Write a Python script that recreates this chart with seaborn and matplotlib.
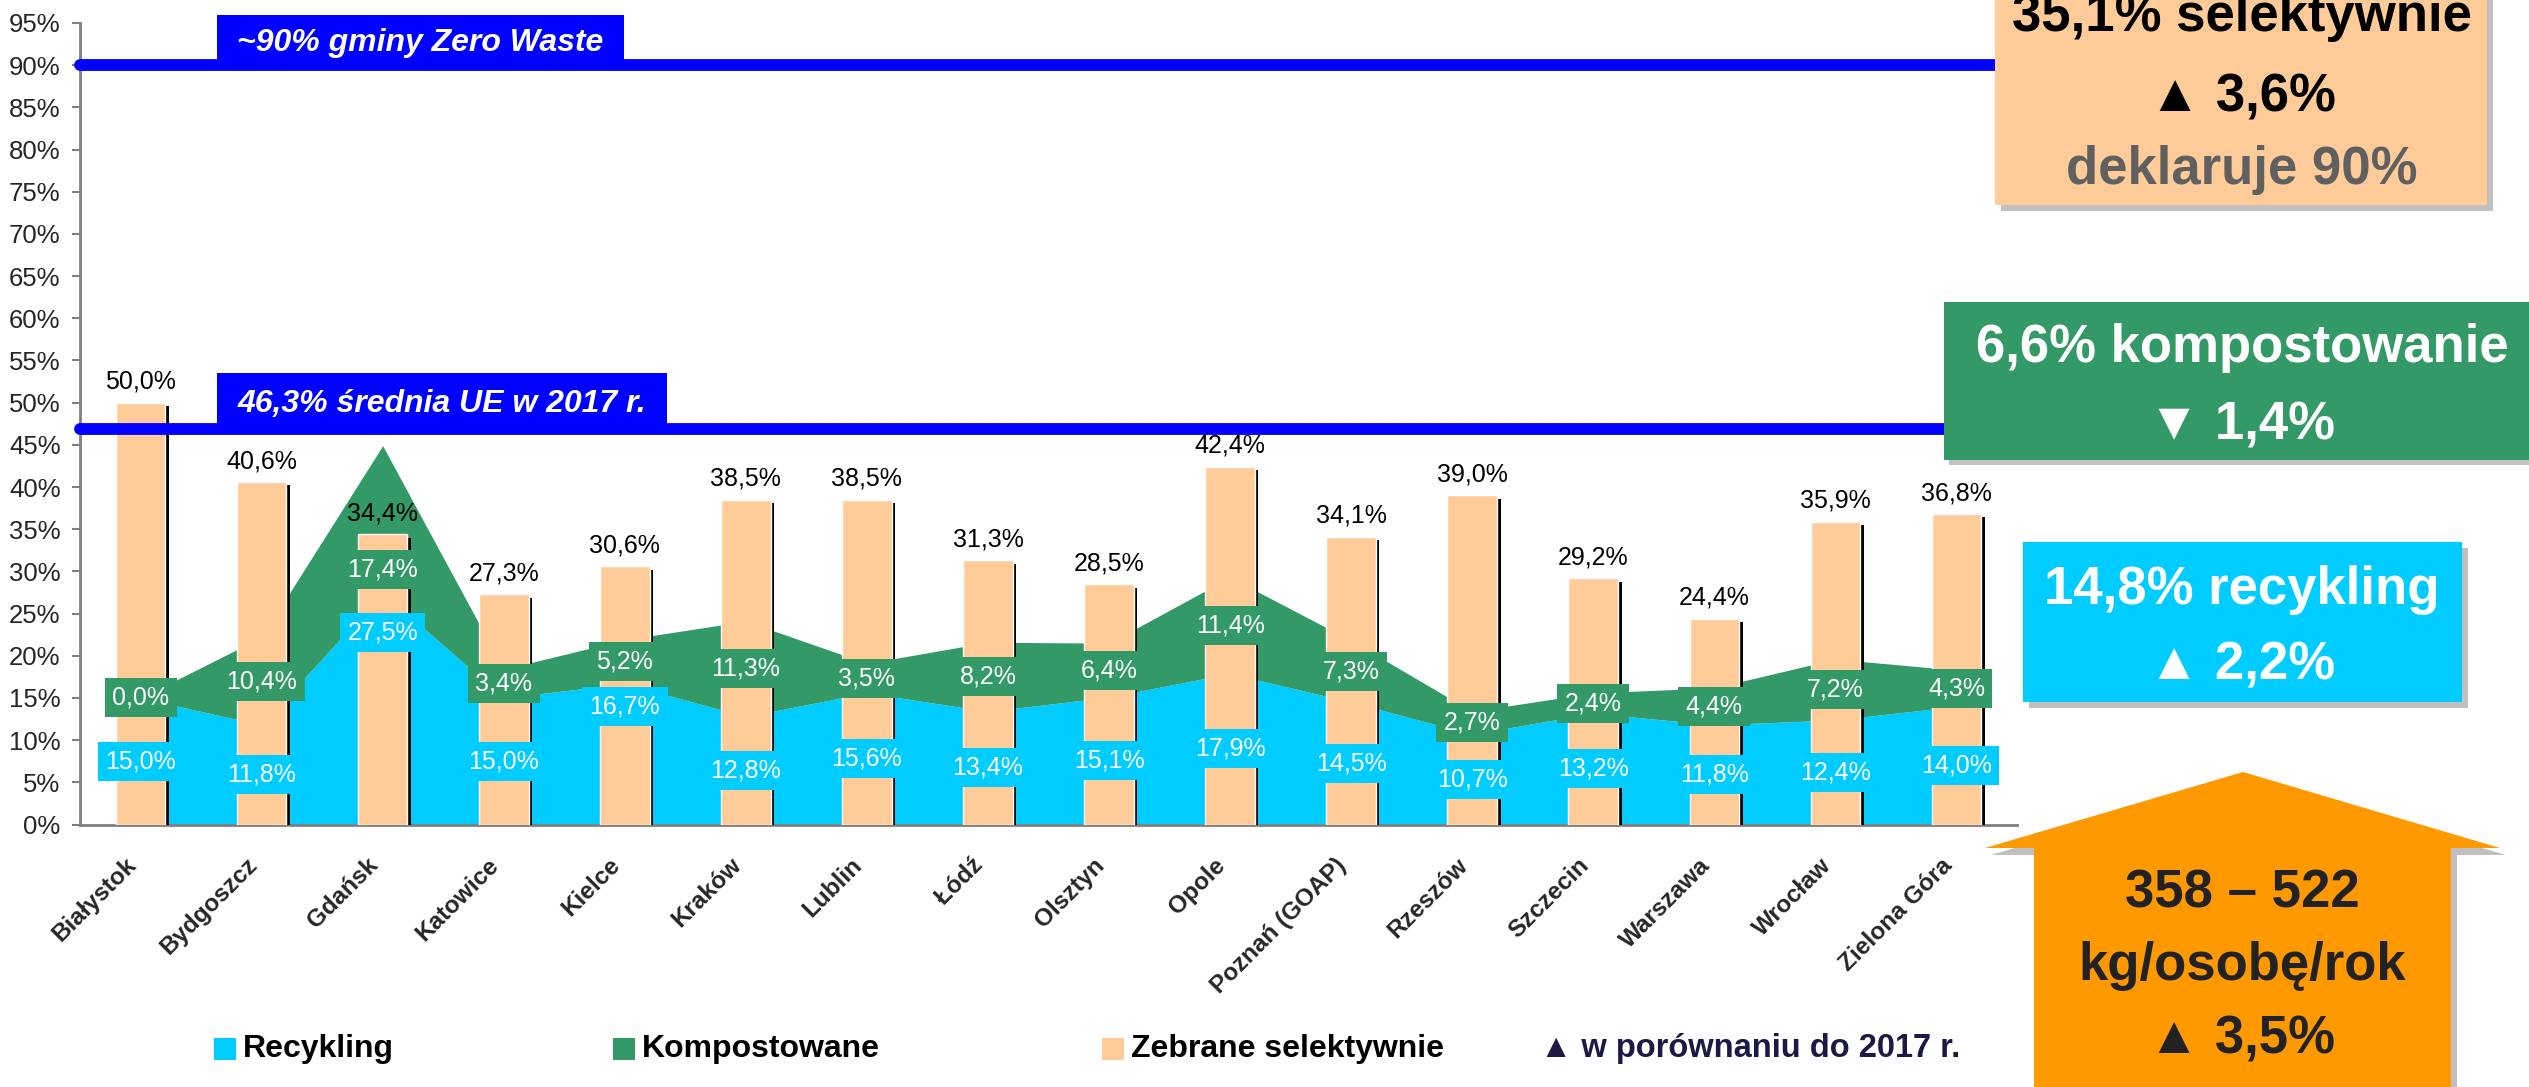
import matplotlib
matplotlib.use("Agg")
import matplotlib.pyplot as plt
import matplotlib.patheffects as pe
from matplotlib.patches import Rectangle, Polygon
import seaborn as sns
import pandas as pd

# --- data -------------------------------------------------------------
cities = ["Białystok", "Bydgoszcz", "Gdańsk", "Katowice", "Kielce", "Kraków",
          "Lublin", "Łódź", "Olsztyn", "Opole", "Poznań (GOAP)", "Rzeszów",
          "Szczecin", "Warszawa", "Wrocław", "Zielona Góra"]
recykling = [15.0, 11.8, 27.5, 15.0, 16.7, 12.8, 15.6, 13.4,
             15.1, 17.9, 14.5, 10.7, 13.2, 11.8, 12.4, 14.0]
kompostowane = [0.0, 10.4, 17.4, 3.4, 5.2, 11.3, 3.5, 8.2,
                6.4, 11.4, 7.3, 2.7, 2.4, 4.4, 7.2, 4.3]
selektywnie = [50.0, 40.6, 34.4, 27.3, 30.6, 38.5, 38.5, 31.3,
               28.5, 42.4, 34.1, 39.0, 29.2, 24.4, 35.9, 36.8]
y_ticks = list(range(0, 100, 5))

zero_waste = 90
eu_avg = 46.3
eu_line_y = 46.9   # where the line sits in the original picture

CYAN = "#00CCFF"
GREEN = "#339966"
PEACH = "#FFCC99"
BLUE = "#0000FF"
ORANGE = "#FF9900"
SHADOW = "#C0C0C0"

W, H = 2529, 1087


def pct(v):
    return f"{v:.1f}".replace(".", ",") + "%"


def fx(x):
    return x / W


def fy(y):
    return 1 - y / H


sns.set_theme(style="white")
plt.rcParams["font.family"] = ["Liberation Sans", "DejaVu Sans"]

fig = plt.figure(figsize=(W / 100, H / 100), dpi=100)
ax = fig.add_axes([fx(80), fy(824.5), (2017 - 80) / W, (824.5 - 23) / H])

# bars (collected selectively)
df = pd.DataFrame({"Miasto": cities, "Zebrane": selektywnie})
sns.barplot(data=df, x="Miasto", y="Zebrane", color=PEACH, saturation=1,
            width=0.41, ax=ax, zorder=3)
for bar in ax.patches:
    bar.set_path_effects([pe.SimplePatchShadow(offset=(2.5, -2.5), shadow_rgbFace="black", alpha=1),
                          pe.Normal()])

# stacked areas: recycling + composting
xs = list(range(len(cities)))
ax.stackplot(xs, recykling, kompostowane, colors=[CYAN, GREEN], zorder=1, linewidth=0)

# value labels
rec_y = [r / 2 for r in recykling]
comp_y = [r + c / 2 for r, c in zip(recykling, kompostowane)]
rec_y[2], rec_y[4] = 22.7, 14.0
comp_y[2] = 30.2
for i in xs:
    ax.text(i, rec_y[i], pct(recykling[i]), ha="center", va="center", fontsize=18, color="white",
            zorder=6, bbox=dict(boxstyle="square,pad=0.3", fc=CYAN, ec="none"))
    ax.text(i, comp_y[i], pct(kompostowane[i]), ha="center", va="center", fontsize=18, color="white",
            zorder=6, bbox=dict(boxstyle="square,pad=0.3", fc=GREEN, ec="none"))
    ax.annotate(pct(selektywnie[i]), (i, selektywnie[i]), xytext=(0, 10), textcoords="offset points",
                ha="center", va="baseline", fontsize=18, color="black", zorder=9)

# reference lines
ax.axhline(zero_waste, xmin=0, xmax=1, color=BLUE, lw=8.5, zorder=7, clip_on=False)
ax.axhline(eu_line_y, xmin=0, xmax=1, color=BLUE, lw=8.5, zorder=7, clip_on=False)
ax.add_patch(Rectangle((0.63, zero_waste), 3.36, 5.9, fc=BLUE, ec="none", zorder=7, clip_on=False))
ax.text(2.31, 92.6, "~90% gminy Zero Waste", ha="center", va="center", fontsize=23,
        fontweight="bold", fontstyle="italic", color="white", zorder=8, clip_on=False)
ax.add_patch(Rectangle((0.63, eu_line_y), 3.72, 6.6, fc=BLUE, ec="none", zorder=7, clip_on=False))
ax.text(2.49, 49.9, f"{pct(eu_avg)} średnia UE w 2017 r.", ha="center", va="center", fontsize=23,
        fontweight="bold", fontstyle="italic", color="white", zorder=8)

# axes styling
ax.set_xlim(-0.5, 15.5)
ax.set_ylim(0, 95)
ax.set_yticks(y_ticks)
ax.set_yticklabels([f"{t}%" for t in y_ticks], fontsize=18.5)
ax.set_xticks(xs)
ax.set_xticklabels(cities, rotation=45, ha="right", fontsize=17.5, fontweight="bold")
ax.tick_params(axis="x", length=0, pad=21)
ax.tick_params(axis="y", direction="out", length=6, width=1.5, color="#808080", pad=8, left=True)
ax.set_xlabel("")
ax.set_ylabel("")
for side in ["top", "right"]:
    ax.spines[side].set_visible(False)
for side in ["left", "bottom"]:
    ax.spines[side].set_color("#808080")
    ax.spines[side].set_linewidth(2)
ax.patch.set_alpha(0)


# --- summary boxes on the right ---------------------------------------
def box(x0, y0, x1, y1, color, dx=6, dy=6):
    fig.add_artist(Rectangle((fx(x0 + dx), fy(y1 + dy)), (x1 - x0) / W, (y1 - y0) / H,
                             transform=fig.transFigure, fc=SHADOW, ec="none", zorder=10))
    fig.add_artist(Rectangle((fx(x0), fy(y1)), (x1 - x0) / W, (y1 - y0) / H,
                             transform=fig.transFigure, fc=color, ec="none", zorder=11))


def btext(y, s, color):
    fig.text(fx(2242), fy(y), s, ha="center", va="baseline", fontsize=38, fontweight="bold",
             color=color, zorder=12)


box(1995, -60, 2487, 205, PEACH)
btext(31, "35,1% selektywnie", "black")
btext(111, "▲ 3,6%", "black")
btext(184, "deklaruje 90%", "#606060")

box(1944, 302, 2560, 460, GREEN, dx=5, dy=5)
btext(362, "6,6% kompostowanie", "white")
btext(440, "▼ 1,4%", "white")

box(2023, 542, 2462, 702, CYAN)
btext(604, "14,8% recykling", "white")
btext(680, "▲ 2,2%", "white")

arrow = [(2243, 772), (2500, 848), (2451, 848), (2451, 1120), (2034, 1120), (2034, 848), (1985, 848)]
fig.add_artist(Polygon([(fx(x + 6), fy(y + 7)) for x, y in arrow], closed=True,
                       transform=fig.transFigure, fc=SHADOW, ec="none", zorder=10))
fig.add_artist(Polygon([(fx(x), fy(y)) for x, y in arrow], closed=True,
                       transform=fig.transFigure, fc=ORANGE, ec="none", zorder=11))
btext(907, "358 – 522", "#222222")
btext(980, "kg/osobę/rok", "#222222")
btext(1053, "▲ 3,5%", "#222222")

# --- legend -------------------------------------------------------------
legend_items = [(214, CYAN, "Recykling"), (613, GREEN, "Kompostowane"), (1102, PEACH, "Zebrane selektywnie")]
for x0, color, label in legend_items:
    fig.add_artist(Rectangle((fx(x0), fy(1060)), 22 / W, 22 / H, transform=fig.transFigure,
                             fc=color, ec="none"))
    fig.text(fx(x0 + 29), fy(1049), label, ha="left", va="center", fontsize=23,
             fontweight="bold", color="black")
fig.text(fx(1540), fy(1049), "▲ w porównaniu do 2017 r.", ha="left", va="center", fontsize=23.5,
         fontweight="bold", color="#1A1A45")

fig.savefig("out.png", dpi=100)
